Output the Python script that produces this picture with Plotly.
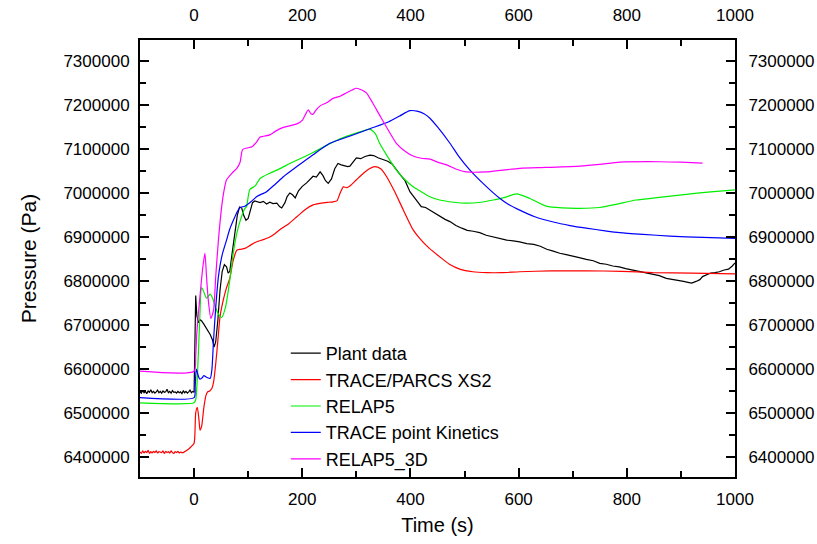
import plotly.graph_objects as go

# ---------------- data ----------------
plant_t = [-100, -97.5, -95, -92.5, -90, -87.5, -85, -82.5, -80, -77.5, -75, -72.5, -70, -67.5, -65, -62.5,
           -60, -57.5, -55, -52.5, -50, -47.5, -45, -42.5, -40, -37.5, -35, -32.5, -30, -27.5, -25, -22.5,
           -20, -17.5, -15, -12.5, -10, -7.5, -5, -2.5, 0,
           3, 5, 8, 11, 14, 18, 22, 26, 30, 34, 37, 40, 44, 48, 52, 56, 60, 63, 66, 70, 75, 80, 84, 88,
           92, 96, 100, 104, 108, 112, 116, 122, 128, 134, 140, 146, 153, 158, 162, 168, 172, 177, 182, 187,
           193, 200, 208, 214, 220, 226, 233, 238, 243, 248, 254, 260, 266, 272, 278, 284, 288, 294, 300,
           308, 316, 325, 332, 340, 350, 358, 366, 374, 382, 390, 399, 406, 413, 420, 428, 436, 446, 455,
           464, 473, 484, 495, 505, 516, 528, 540, 552, 565, 578, 590, 602, 615, 628, 640, 652, 664, 676,
           688, 700, 712, 725, 738, 750, 762, 774, 786, 798, 810, 824, 836, 848, 860, 873, 885, 896, 905,
           913, 920, 928, 935, 940, 948, 955, 963, 971, 980, 988, 995, 1000]
plant_p = [6548000, 6545000, 6551000, 6546000, 6549000, 6544000, 6550000, 6547000, 6553000, 6546000,
           6549000, 6545000, 6548000, 6552000, 6546000, 6549000, 6545000, 6550000, 6547000, 6548000,
           6554000, 6546000, 6549000, 6545000, 6551000, 6547000, 6548000, 6545000, 6549000, 6546000,
           6548000, 6544000, 6550000, 6546000, 6549000, 6545000, 6548000, 6552000, 6546000, 6549000, 6547000,
           6767000, 6722000, 6705000, 6712000, 6709000, 6702000, 6694000, 6686000, 6678000, 6666000, 6650000,
           6662000, 6712000, 6780000, 6822000, 6837000, 6832000, 6818000, 6822000, 6860000, 6912000,
           6950000, 6968000, 6966000, 6948000, 6938000, 6942000, 6962000, 6978000, 6982000, 6980000,
           6978000, 6981000, 6975000, 6979000, 6976000, 6977000, 6969000, 6966000, 6978000, 6992000,
           7000000, 6996000, 6989000, 7005000, 7015000, 7023000, 7030000, 7038000, 7036000, 7048000,
           7040000, 7028000, 7022000, 7032000, 7055000, 7067000, 7064000, 7062000, 7060000, 7061000,
           7070000, 7080000, 7078000, 7083000, 7086000, 7085000, 7080000, 7075000, 7072000, 7066000,
           7052000, 7040000, 7028000, 7003000, 6992000, 6980000, 6969000, 6967000, 6961000, 6952000,
           6945000, 6940000, 6935000, 6926000, 6920000, 6915000, 6913000, 6910000, 6904000, 6900000,
           6896000, 6893000, 6891000, 6889000, 6885000, 6883000, 6879000, 6872000, 6868000, 6863000,
           6860000, 6857000, 6853000, 6849000, 6846000, 6840000, 6838000, 6834000, 6832000, 6828000,
           6825000, 6821000, 6818000, 6815000, 6812000, 6806000, 6804000, 6802000, 6799000, 6797000,
           6795000, 6799000, 6803000, 6810000, 6814000, 6818000, 6819000, 6821000, 6825000, 6827000,
           6834000, 6841000, 6845000]

xs2_t = [-100, -97.5, -95, -92.5, -90, -87.5, -85, -82.5, -80, -77.5, -75, -72.5, -70, -67.5, -65, -62.5,
         -60, -57.5, -55, -52.5, -50, -47.5, -45, -42.5, -40, -37.5, -35, -32.5, -30, -27.5, -25, -22.5,
         -20, -15, -10, -5, 0,
         3, 6, 9, 11, 14, 18, 22, 25, 29, 33, 36, 40, 44, 48, 55, 60, 66, 72, 79, 86, 94, 105, 116, 128,
         140, 150, 159, 175, 190, 205, 220, 235, 250, 257, 264, 270, 276, 282, 288, 300, 313, 324, 334,
         345, 356, 370, 387, 405, 417, 435, 454, 472, 491, 515, 541, 570, 602, 660, 725, 790, 848, 920,
         1000]
xs2_p = [6412000, 6408000, 6414000, 6409000, 6413000, 6410000, 6415000, 6408000, 6412000, 6409000,
         6413000, 6410000, 6414000, 6409000, 6412000, 6411000, 6410000, 6414000, 6408000, 6413000,
         6410000, 6412000, 6409000, 6414000, 6410000, 6408000, 6412000, 6410000, 6413000, 6409000,
         6411000, 6410000, 6410000, 6414000, 6418000, 6424000, 6431000,
         6500000, 6513000, 6485000, 6461000, 6470000, 6512000, 6540000, 6548000, 6550000, 6556000,
         6570000, 6612000, 6665000, 6719000, 6762000, 6785000, 6806000, 6845000, 6870000, 6872000,
         6874000, 6882000, 6889000, 6894000, 6900000, 6908000, 6917000, 6930000, 6946000, 6962000,
         6973000, 6977000, 6979000, 6980000, 6982000, 7000000, 7014000, 7012000, 7016000, 7030000,
         7045000, 7055000, 7060000, 7055000, 7037000, 7005000, 6961000, 6916000, 6897000, 6874000,
         6855000, 6838000, 6827000, 6821000, 6819000, 6819000, 6821000, 6823000, 6823000, 6822000,
         6819000, 6818000, 6816000]

relap5_t = [-100, 0, 3, 6, 10, 14, 18, 23, 30, 35, 39, 45, 51, 58, 66, 72, 79, 86, 94, 97, 103, 113,
            122, 140, 160, 177, 200, 220, 240, 264, 290, 313, 325, 335, 343, 358, 374, 390, 405, 417, 435,
            454, 480, 503, 530, 553, 575, 596, 620, 651, 680, 713, 750, 780, 817, 860, 910, 950, 1000]
relap5_p = [6523000, 6523000, 6530000, 6580000, 6700000, 6785000, 6775000, 6761000, 6770000, 6758000,
            6742000, 6725000, 6717000, 6740000, 6802000, 6860000, 6908000, 6940000, 6965000, 6969000,
            7008000, 7016000, 7033000, 7045000, 7056000, 7067000, 7080000, 7092000, 7105000, 7120000,
            7132000, 7141000, 7145000, 7135000, 7113000, 7082000, 7052000, 7030000, 7014000, 7005000,
            6992000, 6984000, 6979000, 6977000, 6979000, 6984000, 6990000, 6998000, 6988000, 6970000,
            6966000, 6965000, 6967000, 6974000, 6984000, 6990000, 6997000, 7002000, 7007000]

tpk_t = [-100, 0, 2, 4, 6, 9, 11, 15, 18, 22, 25, 30, 33, 36, 40, 45, 52, 60, 66, 73, 80, 85, 94, 105,
         116, 134, 150, 165, 190, 220, 251, 290, 325, 360, 380, 399, 412, 425, 436, 450, 473, 490, 510,
         540, 565, 580, 602, 630, 664, 695, 725, 760, 787, 830, 879, 940, 1000]
tpk_p = [6535000, 6535000, 6560000, 6600000, 6592000, 6580000, 6577000, 6580000, 6585000, 6582000,
         6580000, 6579000, 6600000, 6666000, 6740000, 6810000, 6860000, 6893000, 6918000, 6939000,
         6958000, 6967000, 6970000, 6980000, 6992000, 7003000, 7020000, 7037000, 7060000, 7087000,
         7113000, 7130000, 7146000, 7162000, 7175000, 7187000, 7186000, 7180000, 7170000, 7150000,
         7113000, 7082000, 7052000, 7015000, 6988000, 6975000, 6961000, 6946000, 6934000, 6926000,
         6920000, 6914000, 6910000, 6906000, 6902000, 6899000, 6897000]

r3d_t = [-100, 0, 3, 5, 9, 12, 16, 20, 23, 26, 31, 36, 40, 45, 51, 56, 60, 70, 79, 85, 90, 107, 115, 122,
         140, 150, 165, 190, 200, 211, 216, 220, 225, 233, 245, 257, 270, 282, 292, 300, 310, 319, 330,
         343, 358, 374, 390, 405, 420, 436, 450, 467, 485, 503, 540, 570, 602, 650, 713, 750, 787, 861,
         900, 940]
r3d_p = [6595000, 6595000, 6630000, 6681000, 6740000, 6780000, 6830000, 6863000, 6810000, 6760000,
         6715000, 6734000, 6810000, 6893000, 6969000, 7010000, 7030000, 7045000, 7056000, 7070000,
         7099000, 7105000, 7115000, 7127000, 7132000, 7140000, 7149000, 7157000, 7165000, 7189000,
         7180000, 7179000, 7188000, 7198000, 7205000, 7215000, 7220000, 7228000, 7234000, 7238000,
         7234000, 7227000, 7205000, 7177000, 7145000, 7113000, 7095000, 7084000, 7079000, 7077000,
         7070000, 7064000, 7054000, 7048000, 7048000, 7052000, 7056000, 7058000, 7061000, 7065000,
         7070000, 7071000, 7070000, 7068000]

series = [
    ("Plant data", plant_t, plant_p, "black", "linear"),
    ("TRACE/PARCS XS2", xs2_t, xs2_p, "#ff0000", "spline"),
    ("RELAP5", relap5_t, relap5_p, "#00ee00", "spline"),
    ("TRACE point Kinetics", tpk_t, tpk_p, "#0000ff", "spline"),
    ("RELAP5_3D", r3d_t, r3d_p, "#ff00ff", "spline"),
]

x_range = [-100, 1000]
y_range = [6354500, 7347700]

FONT = "Liberation Sans, Arial, sans-serif"

fig = go.Figure()
for name, t, p, c, shape in series:
    line = dict(color=c, width=1.2, shape=shape)
    if shape == "spline":
        line["smoothing"] = 0.6
    fig.add_trace(go.Scatter(x=t, y=p, mode="lines", name=name, line=line))

# invisible trace to host the top / right axes
fig.add_trace(go.Scatter(x=x_range, y=y_range, mode="markers", xaxis="x2", yaxis="y2",
                         marker=dict(opacity=0), showlegend=False, hoverinfo="skip"))

minor_ticks = dict(ticklen=6, ticks="inside", tickcolor="black", tickwidth=1.5)
common = dict(showline=True, linecolor="black", linewidth=2, ticks="inside", ticklen=9,
              tickwidth=1.5, tickcolor="black", showgrid=False, zeroline=False, automargin=False,
              tickformat="d", tickfont=dict(family=FONT, size=17, color="black"))

fig.update_layout(
    width=817, height=544,
    margin=dict(l=140, r=82, t=40, b=67),
    paper_bgcolor="white", plot_bgcolor="white",
    font=dict(family=FONT, color="black"),
    xaxis=dict(range=x_range, dtick=200, tick0=0, mirror=True,
               minor=dict(dtick=100, **minor_ticks),
               title=dict(text="Time (s)", font=dict(family=FONT, size=20), standoff=10),
               ticklabelstandoff=6, **common),
    yaxis=dict(range=y_range, dtick=100000, tick0=0, mirror=True,
               minor=dict(dtick=50000, **minor_ticks),
               title=dict(text="Pressure (Pa)", font=dict(family=FONT, size=21), standoff=21),
               ticklabelstandoff=5, **common),
    xaxis2=dict(range=x_range, dtick=200, tick0=0, overlaying="x", side="top",
                minor=dict(dtick=100, **minor_ticks),
                ticklabelstandoff=10, **common),
    yaxis2=dict(range=y_range, dtick=100000, tick0=0, overlaying="y", side="right",
                minor=dict(dtick=50000, **minor_ticks),
                ticklabelstandoff=8, **common),
    legend=dict(x=0.245, y=0.325, xanchor="left", yanchor="top",
                bgcolor="rgba(0,0,0,0)", font=dict(family=FONT, size=18, color="black"),
                tracegroupgap=0),
    showlegend=True,
)

fig.write_html("out.html", config={"displayModeBar": False},
               post_script="document.body.style.margin='0';")
